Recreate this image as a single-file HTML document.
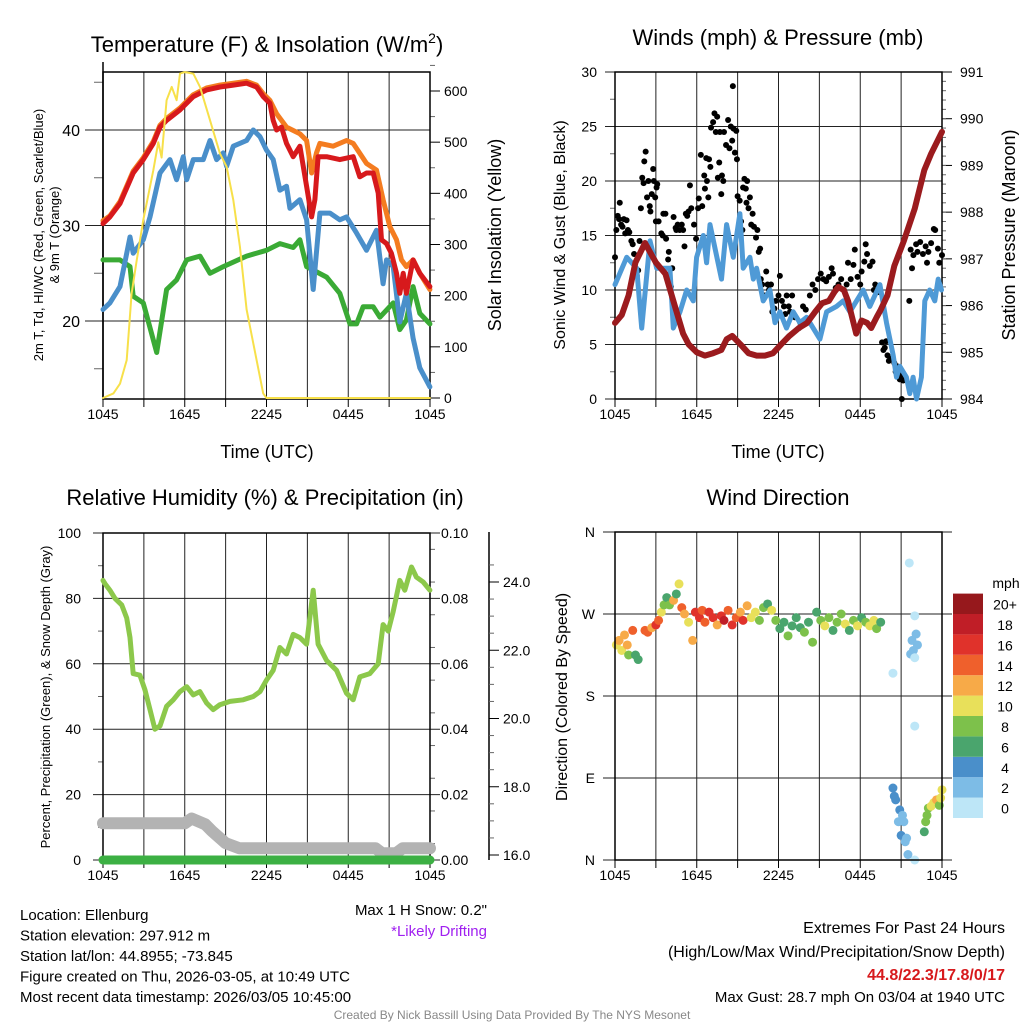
<!DOCTYPE html>
<html><head><meta charset="utf-8"><title>Mesonet Meteogram</title>
<style>
html,body{margin:0;padding:0;background:#fff;}
svg{display:block;font-family:"Liberation Sans",Arial,sans-serif;}
</style></head>
<body>
<svg id="chart" width="1024" height="1024" viewBox="0 0 1024 1024"></svg>
<script>
// ---------- Panel 1: temperature & insolation ----------
const tempT = [0,0.51,1.25,2.22,2.96,3.69,4.18,4.67,5.65,6.63,7.6,8.58,9.56,10.54,11.27,11.76,12.25,12.49,12.74,13.1,13.47,13.96,14.45,14.94,15.31,15.55,15.79,16.41,17.38,18.36,18.85,19.34,19.83,20.2,20.44,20.81,21.17,21.54,21.78,22.03,22.27,22.76,23.25,23.99];
const temp2m = [30.2,30.9,32.3,35.5,36.9,38.6,40.3,41,42.1,43.5,44.2,44.5,44.7,44.9,44.5,43.5,42.8,41,40,40.3,38.6,37.2,38.3,34.1,30.9,32.7,37.2,37.2,36.9,37.2,35.1,35.5,35.5,33.4,28.5,28.1,27.1,25,22.9,25,22.9,26.4,25,23.6];
const t9T = [0,0.51,1.25,2.22,2.96,3.69,4.18,4.67,5.65,6.63,7.6,8.58,9.56,10.54,11.27,11.76,12.25,12.74,13.47,14.45,14.94,15.31,15.67,15.92,16.89,17.87,18.36,19.34,20.07,20.56,21.05,21.54,21.91,22.27,22.76,23.25,23.99];
const temp9m = [30.5,31,32.5,35.7,37.1,38.8,40.5,41.2,42.3,43.7,44.4,44.7,44.9,45.1,44.7,43.8,43.1,41.7,40.3,39.6,38.9,35.5,37.6,38.6,38.3,38.9,38.6,36.5,35.8,32.7,29.9,28.5,26.4,25.7,26.4,25,23.3];
const wcT = [0,0.51,1.25,1.98,2.22,2.96,3.45,4.18,4.91,5.4,5.89,6.14,6.63,7.36,7.85,8.34,8.83,9.07,9.56,10.54,11.03,11.52,12.0,12.49,12.98,13.47,13.72,14.45,14.94,15.43,15.92,16.65,17.38,17.87,18.61,19.34,20.07,20.56,20.81,21.3,21.78,22.27,22.76,23.25,23.99];
const windChill = [21.2,21.9,23.6,28.8,27.1,28.5,30.9,35.5,36.9,34.8,37.2,34.8,36.9,36.9,38.9,36.9,37.6,36.2,38.3,38.9,40,39.3,37.9,36.9,33.7,34.1,31.8,32.7,30.6,23.3,31.3,31.3,30.6,30.9,29.2,27.4,29.5,23.9,26.4,25.7,19.9,22.9,18.2,15.1,13.1];
const dewT = [0,1.25,1.98,2.22,2.96,3.94,4.67,5.4,6.14,7.12,7.85,8.83,10.54,12.0,12.98,13.96,14.45,14.94,16.41,17.38,18.12,18.61,19.1,19.83,20.32,21.3,21.78,22.27,22.76,23.25,23.99];
const dewpoint = [26.4,26.4,25.7,22.6,21.9,16.7,23.3,24.3,26.4,26.8,25,25.7,26.8,27.4,28.1,27.7,28.5,25.7,24.6,22.9,19.7,19.7,21.5,21.5,20.4,21.9,19.1,20.1,23.6,20.8,19.7];
const solT = [0,0.76,1.25,1.74,2.1,2.47,2.96,3.69,4.06,4.3,4.67,5.04,5.4,5.65,6.01,6.63,7.12,7.85,8.58,9.07,9.56,10.05,10.54,11.27,11.76,12.0,23.99];
const solar = [0,9,28,74,204,269,348,445,500,470,582,608,582,634,637,634,608,543,478,452,387,296,173,74,9,0,0];
const tempTicks = [20,30,40];
const solTicks = [0,100,200,300,400,500,600];
const timeLabels = ["1045","1645","2245","0445","1045"];
// ---------- Panel 2: winds & pressure ----------
const presT = [0,0.5,1,1.5,2.2,3,3.7,4.4,5,5.4,6,6.6,7.2,7.8,8.2,8.6,9.2,9.8,10.4,11,11.6,12.2,12.8,13.5,14.1,14.7,15.2,15.7,16.1,16.4,16.8,17.1,17.4,17.7,18.1,18.5,18.8,19.2,19.5,20,20.5,21.2,22,22.7,23.2,24];
const pressure = [985.63,985.80,986.22,986.92,987.34,986.92,986.68,985.98,985.40,985.17,985.00,984.93,984.98,985.05,985.28,985.35,985.17,984.98,984.93,984.93,984.98,985.17,985.35,985.52,985.63,985.87,986.05,986.10,986.29,986.40,986.33,986.10,985.75,985.40,985.68,985.63,985.52,985.75,985.91,986.22,986.85,987.38,988.08,988.90,989.25,989.72];
const windT = [0,0.86,1.59,1.96,2.57,3.06,4.03,4.28,4.77,5.26,5.75,5.99,6.48,6.72,6.97,7.82,8.19,8.68,9.17,9.41,9.9,10.15,10.39,10.88,11.37,11.74,12.1,12.59,13.08,13.57,14.06,15.04,15.53,16.26,16.75,17.24,18.22,18.7,19.44,19.93,20.42,20.66,20.9,21.39,21.64,21.88,22.13,22.49,22.74,23.1,23.47,23.72,23.96];
const windSpd = [10.5,13,12,6.5,14.5,12,12,6.5,8,10,9,13,15,12.5,16,11,16,13,17,12,13,11,12,9,10,7,8,6.5,8,7,7.5,5.5,8,8.5,9,8,10,8.5,10.5,7,4,2,3,2,0.5,2,0,2,9,10,9,11,10];
const gustT = [0,0.1,0.2,0.3,0.35,0.45,0.55,0.65,0.75,0.85,0.95,1.05,1.2,1.3,1.4,1.5,1.6,1.7,1.8,1.9,2.0,2.1,2.15,2.25,2.35,2.45,2.55,2.6,2.7,2.8,2.85,2.95,3.05,3.1,3.0,3.2,3.4,3.5,3.55,3.7,3.75,3.9,3.95,4.1,4.2,4.3,4.45,4.5,4.6,4.75,4.9,5.0,5.1,5.2,5.3,5.4,5.5,5.6,5.8,5.95,6.1,6.15,6.3,6.4,6.55,6.6,6.7,6.75,6.85,6.9,7.0,7.05,7.2,7.3,7.4,7.5,7.55,7.65,7.7,7.8,7.85,7.95,8.0,8.15,8.3,8.4,8.5,8.6,8.65,8.7,8.8,8.9,8.95,9.0,9.15,9.25,9.35,9.4,9.5,9.6,9.65,9.7,9.8,9.9,10.0,10.1,10.2,10.35,10.45,10.55,10.65,10.7,10.8,10.9,11.0,11.1,11.2,11.3,11.45,11.55,11.7,11.8,12.0,12.1,12.25,12.4,12.5,12.6,12.75,12.85,13.0,13.2,13.5,13.6,13.8,14.0,14.3,14.5,14.7,14.9,15.1,15.3,15.5,15.7,15.9,16.0,16.2,16.4,16.6,16.8,17.0,17.1,17.3,17.5,17.6,17.8,18.0,18.1,18.3,18.4,18.5,18.7,18.9,19.0,19.1,19.3,19.6,19.7,19.8,19.9,20.0,20.1,20.3,20.5,20.6,20.7,20.9,21.0,21.05,21.15,21.3,21.6,21.7,21.8,21.9,22.1,22.2,22.4,22.6,22.8,22.9,23.0,23.2,23.4,23.5,23.7,23.8,24];
const gustSpd = [13,15.5,16.8,16.5,18,16,15.8,16.5,15.2,16.4,15.5,15.3,14.5,14.2,13.3,12,11.3,11.8,14.5,17.5,20.3,19.8,21.8,22.7,18.5,20,17.7,17.2,18.8,21.1,20,18.5,19.4,19.7,16.3,16.3,15.2,15,17,17,14.7,12.8,13.5,10.3,12,16.7,15.7,15.5,16,15.5,16,15.5,14,17,16.8,17.2,19.6,17.5,16,14.7,17.5,18.4,22.4,17.7,20.5,19.3,22.1,20,18.5,22,21.3,24.9,25.4,26.2,24.5,25.9,20.3,21.7,24.5,18.8,20.5,20,24.5,23.3,25.6,23,25,23.7,28.7,24.8,22.6,24.6,22,18.6,18.2,16.3,15.5,19.4,20.2,19.3,18,20,17.5,18.5,16,17,15.8,14.8,15.5,13.5,13.8,11,10.5,9.5,9.5,11.7,10.5,10,10.5,8,8.3,9,9.5,11.3,9,8.5,7.8,9.5,8.5,8,9.5,7.5,6.5,7,8.5,8.2,9.5,10.5,10,11,11.5,11,10.8,11.2,12,11.5,10.2,10.5,11,10,10.5,12.5,11,12.3,13.7,11.2,10.5,11.7,12.6,14.2,13.3,12.2,12.6,10,10.5,9.8,5.2,4.5,4.7,5.3,4,3.5,3.7,3.3,2.5,3,1.8,2.2,0,1.7,2,9,13.7,12,13.2,14.2,13.5,14.4,13.3,14,12.5,13.5,14.3,15.6,15.5,13.8,12.5,13.2];
const windTicks = [0,5,10,15,20,25,30];
const presTicks = [984,985,986,987,988,989,990,991];
// ---------- Panel 3: RH, precip, snow ----------
const rhT = [0,0.15,0.51,0.88,1.37,1.74,1.98,2.22,2.71,3.08,3.45,3.81,4.18,4.67,5.16,5.65,6.14,6.63,7.11,7.6,8.09,8.58,9.32,10.29,11.03,11.52,12.0,12.49,12.98,13.47,13.96,14.45,14.94,15.43,15.79,16.41,17.14,17.87,18.36,18.85,19.58,20.2,20.56,20.93,21.3,21.78,22.15,22.64,23.0,23.5,23.99];
const relHum = [85.5,84.5,82.5,80,78,74,68,57,56.5,52,46,40,41,47,49,51.5,53,50.5,51.5,48,46,47.5,48.5,49,50,51.5,55,58,65,63,69,68,66,82.5,66,61,58,51,49,56,57,60,72,70,76,85.5,82.5,89.6,86.5,85,82.5];
const snowT = [0,6,6.5,7.5,8,9,10,20,20.5,21.5,22,24];
const snowDepth = [16.93,16.93,17.07,16.9,16.7,16.35,16.2,16.2,16.05,16.05,16.2,16.2];
const precipT = [0,24];
const precip = [0,0];
const driftT = [10.5,23.2];
const driftV = [0,0];
const rhTicks = [0,20,40,60,80,100];
const precipTicks = ["0.00","0.02","0.04","0.06","0.08","0.10"];
const snowTicks = [16,18,20,22,24];
// ---------- Panel 4: wind direction ----------
const dirT = [0.1,0.3,0.5,0.7,0.9,1.0,1.3,1.5,1.7,2.2,2.4,2.7,3.0,3.2,3.4,3.6,3.8,4.0,4.3,4.5,4.7,4.9,5.1,5.4,5.7,5.9,6.2,6.4,6.6,6.9,7.2,7.5,7.8,8.0,8.3,8.6,8.9,9.2,9.4,9.7,10.0,10.3,10.6,10.9,11.2,11.5,11.8,12.1,12.4,12.7,13.0,13.3,13.6,13.9,14.2,14.5,14.8,15.1,15.4,15.7,16.0,16.3,16.6,16.9,17.2,17.5,17.8,18.1,18.4,18.7,19.0,19.2,19.5,21.6,22.0,21.8,22.1,22.2,21.9,21.7,22.0,20.4,22.0,22.0,20.4,20.5,20.6,20.9,21.1,20.8,21.2,21.0,21.3,21.5,21.4,22.7,22.8,22.9,23.0,23.2,23.4,23.6,23.8,24.0,23.9];
const dirDeg = [236,241,230,247,236,225,252,225,220,252,250,255,258,263,272,280,288,280,285,292,303,277,270,261,241,272,266,274,261,272,266,258,268,263,274,258,266,272,263,279,266,272,263,277,281,274,263,254,261,246,257,266,255,250,261,239,272,263,257,266,252,261,270,259,252,263,257,266,261,257,263,254,261,326,268,241,248,236,230,226,222,205,147,0,79,70,66,55,49,42,42,27,20,6,24,31,42,49,57,59,63,66,60,77,68];
const dirSpd = [11,12,10,13,12,8,14,7,6,15,14,13,16,14,10,9,7,8,12,7,11,14,12,10,13,16,17,14,15,17,16,13,16,18,15,16,14,12,17,13,11,10,9,8,7,11,9,7,6,8,7,6,7,8,7,8,7,9,10,8,7,8,9,10,7,8,10,7,9,10,11,9,6,1,1,3,3,2,3,3,1,1,1,1,5,5,4,4,3,3,3,4,3,3,2,7,8,9,9,10,10,12,9,10,11];
const dirLabels = ["N","E","S","W","N"];
const speedLabels = ["0","2","4","6","8","10","12","14","16","18","20+"];
const speedColors = ["#bde6f7","#7dbce6","#4a8fca","#4aa56d","#7dc14b","#e8e05a","#f7aa48","#ef602c","#e0322b","#c01e27","#96181c"];

const NS="http://www.w3.org/2000/svg";
const svg=document.getElementById('chart');
function el(tag,attrs,parent){const e=document.createElementNS(NS,tag);for(const k in attrs)e.setAttribute(k,attrs[k]);(parent||svg).appendChild(e);return e;}
function lin(d0,d1,r0,r1){return v=>r0+(v-d0)*(r1-r0)/(d1-d0);}
function txt(x,y,s,size,anchor,name,extra){const t=el('text',Object.assign({x:x,y:y,'font-size':size,'text-anchor':anchor||'middle',fill:'#000'},extra||{}));t.textContent=s;


return t;}
function line(sx,sy,ts,vs,stroke,w,name){let d='';const n=Math.min(ts.length,vs.length);for(let i=0;i<n;i++){d+=(i?'L':'M')+sx(ts[i]).toFixed(1)+','+sy(vs[i]).toFixed(1);}
const p=el('path',{d:d,fill:'none',stroke:stroke,'stroke-width':w,'stroke-linejoin':'round','stroke-linecap':'round'});


return p;}

function frame(name){
  const g=el('g',{});
  
  
  return g;
}
function vgrid(x0,x1,yTop,yBot,g){
  for(let i=0;i<=8;i++){const x=x0+i*(x1-x0)/8;
    if(i>0&&i<8)el('line',{x1:x,y1:yTop,x2:x,y2:yBot,stroke:'#222','stroke-width':1},g);
    el('line',{x1:x,y1:yBot,x2:x,y2:yBot+8,stroke:'#000','stroke-width':1},g);}
  timeLabels.forEach((s,i)=>{txt(x0+i*(x1-x0)/4,yBot+20,s,14,'middle','x-tick-label');});
}
function border(x0,x1,yTop,yBot,g){el('rect',{x:x0,y:yTop,width:x1-x0,height:yBot-yTop,fill:'none',stroke:'#000','stroke-width':1.5},g);}

// ===== Panel 1 =====
{
 const x0=103,x1=430,yT=72,yB=399;
 const sx=lin(0,24,x0,x1), sy=lin(20,40,321,130), si=lin(0,600,398,91);
 const g=frame('temperature-panel');
 vgrid(x0,x1,yT,yB,g);
 tempTicks.forEach(v=>{el('line',{x1:x0-18,y1:sy(v),x2:x1,y2:sy(v),stroke:'#222','stroke-width':1},g);txt(x0-23,sy(v)+6,String(v),16,'end','temp-tick-label');});
 [15,25,35,45].forEach(v=>el('line',{x1:x0-9,y1:sy(v),x2:x0,y2:sy(v),stroke:'#666'},g));
 solTicks.forEach(v=>{el('line',{x1:x1,y1:si(v),x2:x1+10,y2:si(v),stroke:'#000'},g);txt(x1+14,si(v)+5,String(v),14,'start','solar-tick-label');});
 for(let v=50;v<=650;v+=100)el('line',{x1:x1,y1:si(v),x2:x1+5,y2:si(v),stroke:'#666'},g);
 el('line',{x1:x0,y1:62,x2:x0,y2:yB,stroke:'#000','stroke-width':1.5},g);
 line(sx,sy,dewT,dewpoint,'#3aaa35',5,'dewpoint-line');
 line(sx,sy,wcT,windChill,'#4a8fca',5,'windchill-line');
 line(sx,sy,t9T,temp9m,'#f47c20',5,'temp-9m-line');
 line(sx,sy,tempT,temp2m,'#d7191c',5,'temp-2m-line');
 line(sx,si,solT,solar,'#f7e04a',2,'solar-insolation-line');
 border(x0,x1,yT,yB,g);
 const t=txt(267,52,'Temperature (F) & Insolation (W/m',22,'middle','temperature-title');
 const sup=el('tspan',{dy:-9,'font-size':14});sup.textContent='2';t.appendChild(sup);
 const t2=el('tspan',{dy:9});t2.textContent=')';t.appendChild(t2);
 txt(267,458,'Time (UTC)',18,'middle','x-axis-title');
 txt(0,0,'2m T, Td, HI/WC (Red, Green, Scarlet/Blue)',13,'middle','temp-y-axis-title',{transform:'translate(43,235) rotate(-90)'});
 txt(0,0,'& 9m T (Orange)',13,'middle','temp-y-axis-title-2',{transform:'translate(59,235) rotate(-90)'});
 txt(0,0,'Solar Insolation (Yellow)',18,'middle','solar-y-axis-title',{transform:'translate(501,235) rotate(-90)'});
}
// ===== Panel 2 =====
{
 const x0=615,x1=942,yT=72,yB=399;
 const sx=lin(0,24,x0,x1), sy=lin(0,30,399,72), sp=lin(984,991,399,72);
 const g=frame('winds-panel');
 vgrid(x0,x1,yT,yB,g);
 windTicks.forEach(v=>{el('line',{x1:x0-10,y1:sy(v),x2:x1,y2:sy(v),stroke:'#222'},g);txt(x0-18,sy(v)+5,String(v),14,'end','wind-tick-label');});
 for(let v=2.5;v<30;v+=5)el('line',{x1:x0-5,y1:sy(v),x2:x0,y2:sy(v),stroke:'#666'},g);
 presTicks.forEach(v=>{el('line',{x1:x1,y1:sp(v),x2:x1+10,y2:sp(v),stroke:'#000'},g);txt(x1+18,sp(v)+5,String(v),14,'start','pressure-tick-label');});
 for(let v=984.2;v<991;v+=0.2)el('line',{x1:x1,y1:sp(v),x2:x1+4,y2:sp(v),stroke:'#666'},g);
 line(sx,sy,windT,windSpd,'#4f9ad6',5,'sonic-wind-line');
 for(let i=0;i<gustT.length;i++){const c=el('circle',{cx:sx(gustT[i]),cy:sy(gustSpd[i]),r:3,fill:'#000'},g);
  
  }
 line(sx,sp,presT,pressure,'#9b1b1e',6,'pressure-line');
 border(x0,x1,yT,yB,g);
 txt(778,45,'Winds (mph) & Pressure (mb)',22,'middle','winds-title');
 txt(778,458,'Time (UTC)',18,'middle','x-axis-title');
 txt(0,0,'Sonic Wind & Gust (Blue, Black)',16,'middle','wind-y-axis-title',{transform:'translate(565,235) rotate(-90)'});
 txt(0,0,'Station Pressure (Maroon)',18,'middle','pressure-y-axis-title',{transform:'translate(1015,235) rotate(-90)'});
}
// ===== Panel 3 =====
{
 const x0=103,x1=430,yT=533,yB=860;
 const sx=lin(0,24,x0,x1), sy=lin(0,100,860,533), ss=lin(16,24,855,582), spr=lin(0,0.1,860,533);
 const g=frame('humidity-panel');
 vgrid(x0,x1,yT,yB,g);
 rhTicks.forEach((v,i)=>{el('line',{x1:x0-10,y1:sy(v),x2:x1+10,y2:sy(v),stroke:'#222'},g);txt(x0-22,sy(v)+5,String(v),14,'end','rh-tick-label');txt(x1+11,sy(v)+5,precipTicks[i],14,'start','precip-tick-label');});
 for(let v=10;v<100;v+=20){el('line',{x1:x0-5,y1:sy(v),x2:x0,y2:sy(v),stroke:'#666'},g);}
 for(let v=5;v<100;v+=10){el('line',{x1:x1,y1:sy(v),x2:x1+5,y2:sy(v),stroke:'#666'},g);}
 el('line',{x1:489,y1:532,x2:489,y2:860,stroke:'#000','stroke-width':1.5},g);
 snowTicks.forEach(v=>{el('line',{x1:489,y1:ss(v),x2:499,y2:ss(v),stroke:'#000'},g);txt(503,ss(v)+5,v.toFixed(1),14,'start','snow-tick-label');});
 for(let v=16.5;v<25;v+=0.5){if(v%2)el('line',{x1:489,y1:ss(v),x2:494,y2:ss(v),stroke:'#666'},g);}
 line(sx,ss,snowT,snowDepth,'#b3b3b3',12,'snow-depth-line');
 line(sx,spr,precipT,precip,'#3cb043',9,'precip-line');
 line(sx,sy,rhT,relHum,'#8cc84b',5,'rh-line');
 for(let i=0;i<driftT.length;i++){const c=el('circle',{cx:sx(driftT[i]),cy:850-driftV[i],r:3,fill:'#a020f0'},g);
  
  }
 border(x0,x1,yT,yB,g);
 txt(265,505,'Relative Humidity (%) & Precipitation (in)',22,'middle','humidity-title');
 txt(0,0,'Percent, Precipitation (Green), & Snow Depth (Gray)',13,'middle','rh-y-axis-title',{transform:'translate(50,697) rotate(-90)'});
}
// ===== Panel 4 =====
{
 const x0=615,x1=942,yT=532,yB=860;
 const sx=lin(0,24,x0,x1), sy=lin(0,360,860,532);
 const g=frame('wind-direction-panel');
 vgrid(x0,x1,yT,yB,g);
 dirLabels.forEach((s,i)=>{const v=i*90;el('line',{x1:x0-12,y1:sy(v),x2:x1+10,y2:sy(v),stroke:'#222'},g);txt(x0-20,sy(v)+5,s,14,'end','direction-tick-label');});
 for(let i=0;i<dirT.length;i++){const bi=Math.min(10,Math.floor(dirSpd[i]/2));
  const c=el('circle',{cx:sx(dirT[i]),cy:sy(dirDeg[i]),r:4.5,fill:speedColors[bi]},g);
  
  }
 border(x0,x1,yT,yB,g);
 txt(778,505,'Wind Direction',22,'middle','direction-title');
 txt(0,0,'Direction (Colored By Speed)',16,'middle','direction-y-axis-title',{transform:'translate(567,697) rotate(-90)'});
 const cb=el('g',{});
 
 
 for(let i=0;i<11;i++){const y=818-(i+1)*20.4;
  el('rect',{x:953,y:y,width:30,height:20.4,fill:speedColors[i]},cb);
  txt(1005,y+16,speedLabels[i],14,'middle','colorbar-label');}
 txt(1006,588,'mph',14,'middle','colorbar-title');
}
// ===== Footer text =====
const info=["Location: Ellenburg","Station elevation: 297.912 m","Station lat/lon: 44.8955; -73.845","Figure created on Thu, 2026-03-05, at 10:49 UTC","Most recent data timestamp: 2026/03/05 10:45:00"];
info.forEach((s,i)=>txt(20,920+i*20.5,s,15,'start','station-info'));
txt(487,915,'Max 1 H Snow: 0.2"',15,'end','max-snow-note');
txt(487,936,'*Likely Drifting',15,'end','drifting-note',{fill:'#a020f0'});
txt(1005,933,'Extremes For Past 24 Hours',16,'end','extremes-heading');
txt(1005,957,'(High/Low/Max Wind/Precipitation/Snow Depth)',16,'end','extremes-subheading');
txt(1005,980,'44.8/22.3/17.8/0/17',16,'end','extremes-values',{fill:'#d7191c','font-weight':'bold'});
txt(1005,1002,'Max Gust: 28.7 mph On 03/04 at 1940 UTC',15,'end','max-gust');
txt(512,1019,'Created By Nick Bassill Using Data Provided By The NYS Mesonet',12,'middle','credit',{fill:'#888'});
</script>
</body></html>
